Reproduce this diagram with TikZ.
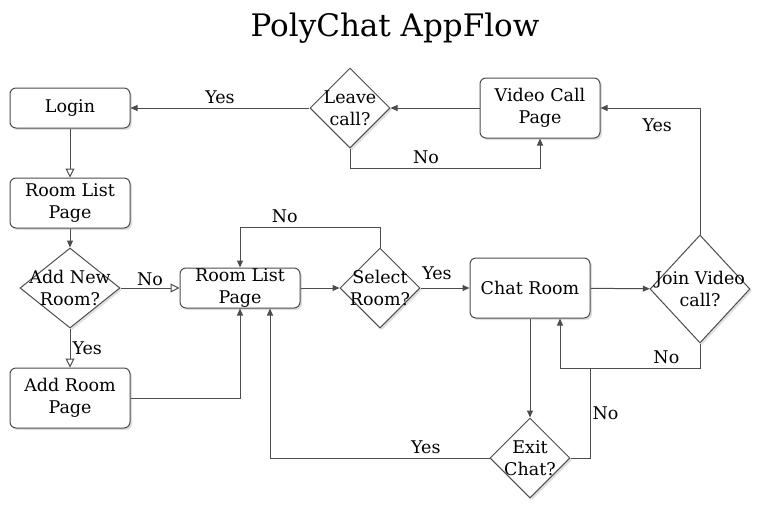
\documentclass[tikz,border=0pt]{standalone}
\usepackage{fontspec}
\setmainfont{DejaVu Serif}
\usetikzlibrary{arrows.meta,shapes,shadows}
\tikzset{
  pc_node/.style = {align=center, inner sep=0pt, text centered,
    draw=black!70, fill=white, line width=1pt,
    drop shadow={opacity=.25, shadow xshift=2pt, shadow yshift=-2pt}},
  pc_box/.style = {pc_node, rectangle, rounded corners=6pt,
    minimum width=120pt},% page / screen
  pc_dec/.style = {pc_node, diamond},% decision, text given as label
  pc_lbl/.style = {inner sep=4pt},% yes / no
  pc_open/.style = {-{Triangle[open, length=9pt, width=9pt]}},% hollow head
  pc_full/.style = {-{Triangle[length=7pt, width=6pt]}}% filled head
}
\begin{document}
\begin{tikzpicture}[x=1pt, y=-1pt, line width=1pt, draw=black!70,
  font=\fontsize{17.5}{22}\selectfont]
\useasboundingbox (0,0) rectangle (772,520);
\node (title) at (395,28) {\fontsize{31}{36}\selectfont PolyChat AppFlow};
% left column
\node [pc_box, minimum height=40pt] (login) at (70,108) {Login};
\node [pc_box, minimum height=50pt] (rl1) at (70,203) {Room List\\Page};
\node [pc_dec, minimum width=100pt, minimum height=80pt,
  label={[align=center]center:Add New\\Room?}] (addq) at (70,288) {};
\node [pc_box, minimum height=60pt] (addpage) at (70,398) {Add Room\\Page};
% middle row
\node [pc_box, minimum height=40pt] (rl2) at (240,288) {Room List\\Page};
\node [pc_dec, minimum width=80pt, minimum height=80pt,
  label={[align=center]center:Select\\Room?}] (selq) at (380,288) {};
\node [pc_box, minimum height=60pt] (chat) at (530,288) {Chat Room};
\node [pc_dec, minimum width=100pt, minimum height=108pt,
  label={[align=center]center:Join Video\\call?}] (joinq) at (700,289) {};
\node [pc_dec, minimum width=80pt, minimum height=80pt,
  label={[align=center]center:Exit\\Chat?}] (exitq) at (530,458) {};
% top row
\node [pc_box, minimum height=60pt] (video) at (540,108) {Video Call\\Page};
\node [pc_dec, minimum width=80pt, minimum height=80pt,
  label={[align=center]center:Leave\\call?}] (leaveq) at (350,108) {};
\coordinate (nomerge) at (590,368);

\draw [pc_open] (login) -- (rl1);
\draw [pc_full] (rl1) -- (addq);
\draw [pc_open] (addq) -- node [pc_lbl, above, inner sep=2pt] {No} (rl2);
\draw [pc_open] (addq) -- node [pc_lbl, right, inner sep=2pt] {Yes} (addpage);
\draw [pc_full] (addpage.east) -| (rl2.south);
\draw [pc_full] (rl2) -- (selq);
\draw [pc_full] (selq.north) -- ++(0,-20) -| node [pc_lbl, pos=0.34, above] {No} (rl2.north);
\draw [pc_full] (selq) -- node [pc_lbl, above, xshift=-8pt, yshift=4pt] {Yes} (chat);
\draw [pc_full] (chat) -- (joinq);
\draw [pc_full] (joinq.north) |- node [pc_lbl, pos=0.715, below, yshift=-6pt] {Yes} (video.east);
\draw [pc_full] (joinq.south) -- ++(0,25) -| node [pc_lbl, pos=0.12, above] {No} ([xshift=30pt]chat.south);
\draw [pc_full] (chat) -- (exitq);
\draw (exitq.east) -| node [pc_lbl, pos=0.75, right, inner sep=2pt] {No} (nomerge);
\draw [pc_full] (exitq.west) -| node [pc_lbl, pos=0.145, above] {Yes} ([xshift=30pt]rl2.south);
\draw [pc_full] (video) -- (leaveq);
\draw [pc_full] (leaveq) -- node [pc_lbl, above] {Yes} (login);
\draw [pc_full] (leaveq.south) -- ++(0,20) -| node [pc_lbl, pos=0.2, above] {No} (video.south);
\end{tikzpicture}
\end{document}
